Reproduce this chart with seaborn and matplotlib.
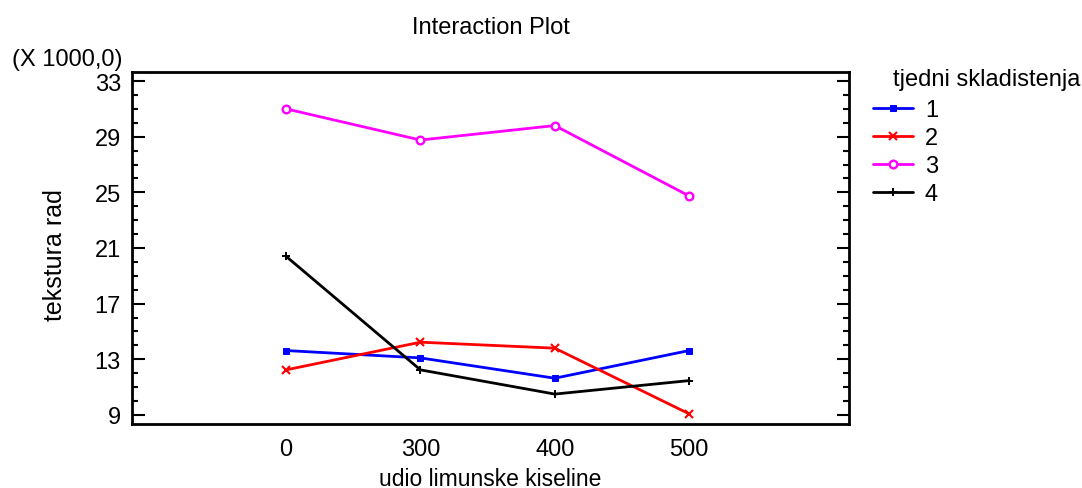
import matplotlib
matplotlib.use("Agg")
import matplotlib.pyplot as plt
import seaborn as sns
import pandas as pd
from matplotlib.ticker import MultipleLocator

# ---- data (values in thousands) ----
levels = ["0", "300", "400", "500"]
weeks = ["1", "2", "3", "4"]
week1 = [13.63, 13.10, 11.64, 13.63]
week2 = [12.24, 14.23, 13.80, 9.08]
week3 = [31.00, 28.76, 29.80, 24.74]
week4 = [20.40, 12.24, 10.50, 11.47]
y_ticks = [9, 13, 17, 21, 25, 29, 33]

df = pd.DataFrame({
    "udio": levels * 4,
    "tjedan": [w for w in weeks for _ in levels],
    "tekstura": week1 + week2 + week3 + week4,
})

sns.set_style("white")
plt.rcParams["font.family"] = ["Liberation Sans", "DejaVu Sans"]
plt.rcParams.update({"text.color": "black", "axes.labelcolor": "black",
                     "xtick.color": "black", "ytick.color": "black"})

FS = 17
W, H = 1082, 489
fig = plt.figure(figsize=(W / 100, H / 100), dpi=100)
ax = fig.add_axes([132 / W, 1 - 425 / H, (849 - 132) / W, (425 - 73) / H])

palette = {"1": "#0000ff", "2": "#ff0000", "3": "#ff00ff", "4": "#000000"}
mstyle = {
    "1": dict(marker="s", markersize=4),
    "2": dict(marker="x", markersize=6, markeredgewidth=1.5),
    "3": dict(marker="o", markersize=5.5, markerfacecolor="white", markeredgewidth=1.7),
    "4": dict(marker="+", markersize=6, markeredgewidth=1.4),
}
for w in weeks:
    sub = df[df["tjedan"] == w]
    sns.lineplot(data=sub, x="udio", y="tekstura", color=palette[w], sort=False,
                 linewidth=2, label=w, ax=ax, markeredgecolor=palette[w],
                 **mstyle[w])

handles, labels = ax.get_legend_handles_labels()
if ax.get_legend() is not None:
    ax.get_legend().remove()
for h, w in zip(handles, weeks):
    h.set_markeredgecolor(palette[w])
leg = fig.legend(handles, labels, loc="upper left",
                 bbox_to_anchor=(873 / W, 1 - 100 / H), bbox_transform=fig.transFigure,
                 frameon=False, fontsize=FS, borderpad=0, borderaxespad=0,
                 handlelength=1.7, handletextpad=0.5, labelspacing=0.26)

ax.set_xlim(-1.147, 4.19)
ax.set_ylim(8.35, 33.65)
ax.set_yticks(y_ticks)
ax.yaxis.set_minor_locator(MultipleLocator(1))
ax.tick_params(axis="y", which="both", direction="in", left=True, right=True,
               labelsize=FS, pad=8)
ax.tick_params(axis="y", which="major", length=9, width=1.5)
ax.tick_params(axis="y", which="minor", length=4.5, width=1.5)
ax.tick_params(axis="x", length=0, labelsize=FS, pad=10)
for sp in ax.spines.values():
    sp.set_linewidth(2)
    sp.set_color("black")
    sp.set_visible(True)

ax.set_xlabel("udio limunske kiseline", fontsize=16.5)
ax.xaxis.set_label_coords(0.5, -0.122)
ax.set_ylabel("tekstura rad", fontsize=18)
ax.yaxis.set_label_coords(-0.091, 0.483)
ax.set_title("Interaction Plot", fontsize=FS, pad=28)

fig.text(12 / W, 1 - 60 / H, "(X 1000,0)", fontsize=FS, ha="left", va="center")
fig.text(893 / W, 1 - 80 / H, "tjedni skladistenja", fontsize=FS, ha="left", va="center")

fig.savefig("out.png", dpi=100)
